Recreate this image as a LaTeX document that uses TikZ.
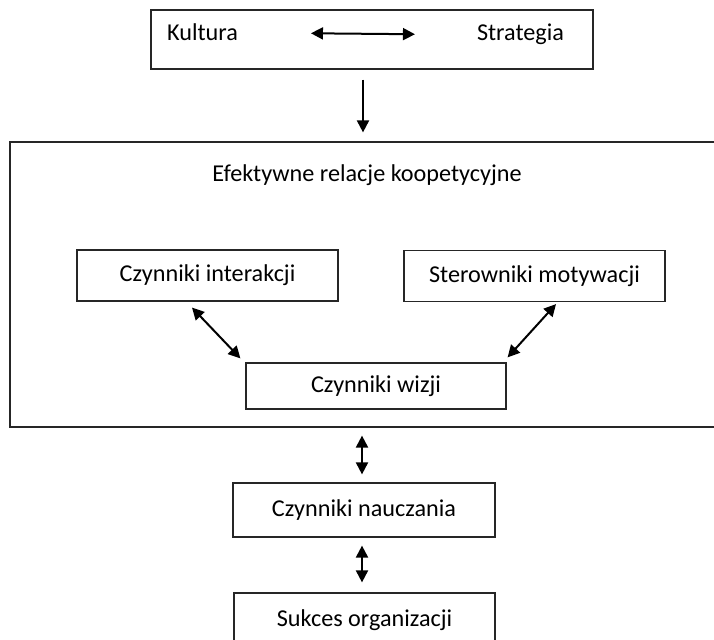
\documentclass[tikz,border=0pt]{standalone}
\usepackage{fontspec}
\setmainfont{Carlito}
\usetikzlibrary{arrows.meta}
\begin{document}
\begin{tikzpicture}[x=0.5pt,y=-0.5pt,
	font=\fontsize{12.1pt}{14.5pt}\selectfont,
	ramka/.style={draw=black!85,line width=0.6pt,inner sep=0pt},
	pole/.style={ramka,minimum width=130.5pt,minimum height=25.5pt},
	grot/.tip={Triangle[length=6pt,width=6pt]},
	strzalka/.style={grot-grot,line width=1pt}]
\useasboundingbox (0,0) rectangle (714,640);
\clip (0,0) rectangle (714,640);      %kadr

\node[ramka,minimum width=221pt,minimum height=29.5pt] (gora) at (372,39.5) {};
\node[anchor=base] (kultura) at (202.5,41) {Kultura};
\node[anchor=base] (strategia) at (520.5,41) {Strategia};      %kultura i strategia

\node[ramka,minimum width=360pt,minimum height=142.5pt] (relacje) at (370,284.5) {};
\node[anchor=base] (tytul) at (367,182) {Efektywne relacje koopetycyjne};
\node[pole] (interakcja) at (207.5,275.5) {Czynniki interakcji};
\node[pole] (motywacja) at (534.5,276) {Sterowniki motywacji};
\node[pole,minimum width=130pt,minimum height=23pt] (wizja) at (376,386) {Czynniki wizji};      %relacje

\node[pole,minimum width=131pt,minimum height=27pt] (nauczanie) at (364,510) {Czynniki nauczania};
\node[pole,minimum width=130.5pt,minimum height=27pt] (sukces) at (364.5,620) {Sukces organizacji};      %dol

\draw[strzalka,shorten <=33pt,shorten >=27.5pt] (kultura.east) -- (strategia.west);
\draw[-grot,line width=1pt,shorten <=5pt,shorten >=4.5pt] ([xshift=-4.5pt]gora.south) -- ([xshift=-4.5pt]gora.south |- relacje.north);
\draw[strzalka] ([shift={(-15.5,6)}]interakcja.south) -- ([shift={(-5,-4)}]wizja.north west);
\draw[strzalka] ([shift={(21.5,2)}]motywacja.south) -- ([shift={(1,-5)}]wizja.north east);
\draw[strzalka,shorten <=4pt,shorten >=4pt] ([xshift=-1pt]nauczanie.north |- relacje.south) -- ([xshift=-1pt]nauczanie.north);
\draw[strzalka,shorten <=4pt,shorten >=5pt] ([xshift=-1pt]nauczanie.south) -- ([xshift=-1pt]nauczanie.south |- sukces.north);      %strzalki
\end{tikzpicture}
\end{document}
